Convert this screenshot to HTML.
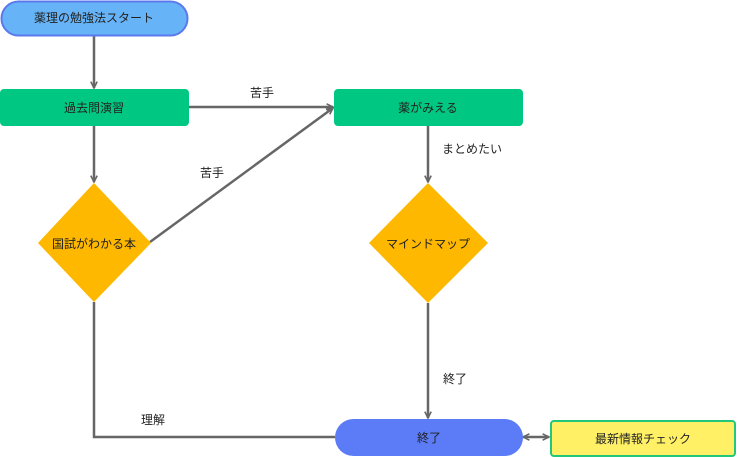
<!DOCTYPE html>
<html><head><meta charset="utf-8"><style>
html,body{margin:0;padding:0;background:#fff;}
svg{display:block;}
text{font-family:"Liberation Sans","Noto Sans CJK JP",sans-serif;font-size:12px;fill:#222;}
</style></head><body>
<svg width="737" height="457" viewBox="0 0 737 457" xmlns="http://www.w3.org/2000/svg">
<defs>
<marker id="a" viewBox="0 0 10 10" refX="9" refY="5" markerWidth="8" markerHeight="8" orient="auto-start-reverse" markerUnits="userSpaceOnUse">
<path d="M1,1 L9,5 L1,9" fill="none" stroke="#666" stroke-width="2"/>
</marker>
</defs>
<g stroke="#666" stroke-width="2.5" fill="none">
<line x1="94" y1="36" x2="94" y2="88" marker-end="url(#a)"/>
<line x1="189" y1="107" x2="333" y2="107" marker-end="url(#a)"/>
<line x1="150" y1="242" x2="333" y2="108" marker-end="url(#a)"/>
<line x1="94" y1="126" x2="94" y2="182" marker-end="url(#a)"/>
<polyline points="94,302 94,437 335,437"/>
<line x1="428" y1="126" x2="428" y2="182" marker-end="url(#a)"/>
<line x1="428" y1="303" x2="428" y2="418" marker-end="url(#a)"/>
<line x1="523" y1="437" x2="549" y2="437" marker-start="url(#a)" marker-end="url(#a)"/>
</g>
<rect x="1.5" y="1.5" width="186" height="34" rx="17" fill="#66b4f7" stroke="#5b78ec" stroke-width="2"/>
<text x="94" y="22" text-anchor="middle">薬理の勉強法スタート</text>
<rect x="0" y="89" width="189" height="37" rx="4" fill="#00c882"/>
<text x="94" y="112" text-anchor="middle">過去問演習</text>
<rect x="334" y="89" width="189" height="37" rx="4" fill="#00c882"/>
<text x="428" y="112" text-anchor="middle">薬がみえる</text>
<polygon points="94,183 151,243 94,302 38,243" fill="#ffb800"/>
<text x="94" y="248" text-anchor="middle">国試がわかる本</text>
<polygon points="428,183 488,243 428,303 369,243" fill="#ffb800"/>
<text x="428" y="248" text-anchor="middle">マインドマップ</text>
<rect x="335" y="419" width="188" height="37" rx="18.5" fill="#5b7cf6"/>
<text x="429" y="442" text-anchor="middle">終了</text>
<rect x="551" y="421" width="184" height="35" rx="3" fill="#fff066" stroke="#22c77a" stroke-width="2"/>
<text x="643" y="443" text-anchor="middle">最新情報チェック</text>
<text x="262" y="97" text-anchor="middle">苦手</text>
<text x="212" y="177" text-anchor="middle">苦手</text>
<text x="472" y="153" text-anchor="middle">まとめたい</text>
<text x="455" y="383" text-anchor="middle">終了</text>
<text x="153" y="424" text-anchor="middle">理解</text>
</g>
</svg>
</body></html>
